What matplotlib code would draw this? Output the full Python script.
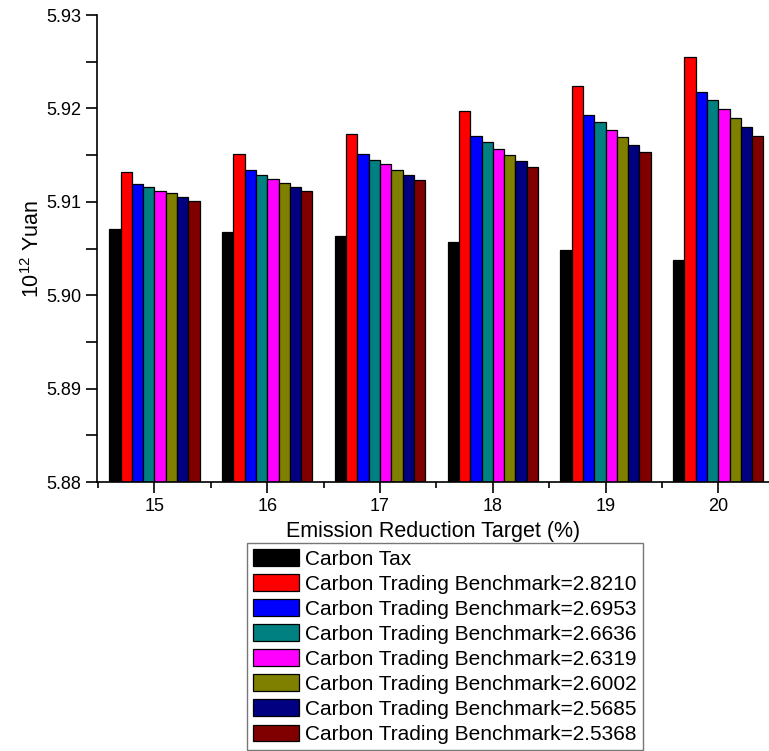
import matplotlib
matplotlib.use("Agg")
import matplotlib.pyplot as plt
import numpy as np
from matplotlib.ticker import MultipleLocator

plt.rcParams['font.family'] = ['Liberation Sans', 'DejaVu Sans']
plt.rcParams['mathtext.fontset'] = 'custom'
plt.rcParams['mathtext.rm'] = 'Liberation Sans'
plt.rcParams['mathtext.it'] = 'Liberation Sans:italic'

targets = [15, 16, 17, 18, 19, 20]
series_names = ["Carbon Tax",
                "Carbon Trading Benchmark=2.8210",
                "Carbon Trading Benchmark=2.6953",
                "Carbon Trading Benchmark=2.6636",
                "Carbon Trading Benchmark=2.6319",
                "Carbon Trading Benchmark=2.6002",
                "Carbon Trading Benchmark=2.5685",
                "Carbon Trading Benchmark=2.5368"]
colors = ["#000000", "#FF0000", "#0000FF", "#008080",
          "#FF00FF", "#808000", "#000080", "#800000"]

carbon_tax = [5.9071, 5.9068, 5.9063, 5.9057, 5.9048, 5.9038]
bench_28210 = [5.9132, 5.9151, 5.9173, 5.9197, 5.9224, 5.9255]
bench_26953 = [5.9119, 5.9134, 5.9151, 5.9171, 5.9193, 5.9218]
bench_26636 = [5.9116, 5.9129, 5.9145, 5.9164, 5.9185, 5.9209]
bench_26319 = [5.9112, 5.9125, 5.9140, 5.9157, 5.9177, 5.9199]
bench_26002 = [5.9109, 5.9120, 5.9134, 5.9150, 5.9169, 5.9190]
bench_25685 = [5.9105, 5.9116, 5.9129, 5.9144, 5.9161, 5.9180]
bench_25368 = [5.9101, 5.9112, 5.9123, 5.9137, 5.9153, 5.9171]

series = [carbon_tax, bench_28210, bench_26953, bench_26636,
          bench_26319, bench_26002, bench_25685, bench_25368]

fig = plt.figure(figsize=(7.69, 7.51), dpi=100)
ax = fig.add_axes([0.1261, 0.358, 0.874, 0.622])

base = 5.88
width = 0.1
x = np.array(targets, dtype=float)
n = len(series)
for i, (vals, name, c) in enumerate(zip(series, series_names, colors)):
    offs = (i - (n - 1) / 2) * width
    ax.bar(x + offs, np.array(vals) - base, width=width, bottom=base,
           color=c, edgecolor="black", linewidth=0.9, label=name)

ax.set_xlim(14.49, 20.45)
ax.set_ylim(5.88, 5.93)
ax.set_xticks(targets)
ax.set_xticklabels([str(t) for t in targets])
ax.xaxis.set_minor_locator(MultipleLocator(0.5))
ax.yaxis.set_major_locator(MultipleLocator(0.01))
ax.yaxis.set_minor_locator(MultipleLocator(0.005))
ax.yaxis.set_major_formatter(matplotlib.ticker.FormatStrFormatter('%.2f'))

for s in ['top', 'right']:
    ax.spines[s].set_visible(False)
for s in ['left', 'bottom']:
    ax.spines[s].set_linewidth(1.2)

ax.tick_params(axis='both', which='major', direction='out', length=8, width=1.2,
               labelsize=13)
ax.tick_params(axis='x', which='minor', direction='out', length=4, width=1.2)
ax.tick_params(axis='y', which='minor', direction='out', length=8, width=1.2)

ax.set_xlabel("Emission Reduction Target (%)", fontsize=15.5, labelpad=4)
ax.set_ylabel(r"10$^{\mathregular{12}}$ Yuan", fontsize=15.5, labelpad=1)

leg = ax.legend(loc='upper left', bbox_to_anchor=(0.321, 0.277),
                bbox_transform=fig.transFigure, fontsize=15,
                frameon=True, fancybox=False, framealpha=1,
                edgecolor='#777777', handlelength=2.2, handleheight=0.85,
                handletextpad=0.3, labelspacing=0.265, borderpad=0.3,
                borderaxespad=0)
leg.get_frame().set_linewidth(1.0)

fig.savefig("out.png", dpi=100)
